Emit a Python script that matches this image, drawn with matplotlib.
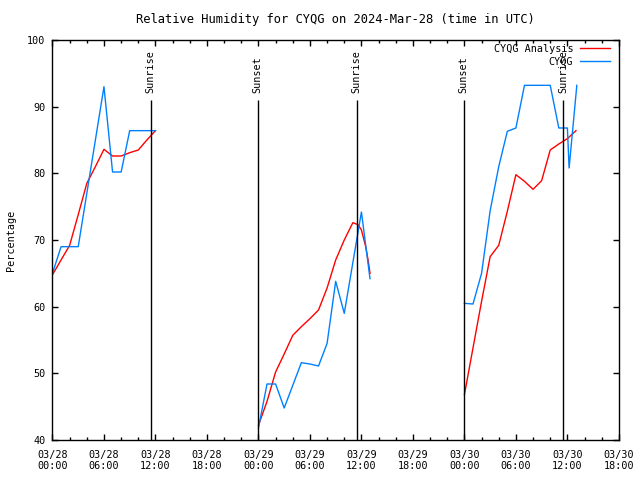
import numpy as np
import pandas as pd
import matplotlib
matplotlib.use("Agg")
import matplotlib.pyplot as plt
import matplotlib.dates as mdates

# hours after 2024-03-28 00:00 UTC, nan marks a gap between data segments
analysis_hours = [0, 1, 2, 3, 4, 5, 6, 7, 8, 9, 10, 11, 12, np.nan,
                  24, 25, 26, 27, 28, 29, 30, 31, 32, 33, 34, 35, 35.6, 36, 36.5, 36.8, 37, np.nan,
                  48, 49, 50, 51, 52, 53, 54, 55, 56, 57, 58, 59, 60, 61]
analysis_rh = [64.8, 67.0, 69.2, 73.8, 78.5, 81.0, 83.6, 82.6, 82.6, 83.1, 83.5, 85.0, 86.4, np.nan,
               42.2, 45.8, 50.2, 52.9, 55.7, 57.0, 58.2, 59.5, 62.8, 67.0, 70.0, 72.6, 72.3, 71.5, 69.0, 66.8, 65.0, np.nan,
               46.8, 53.8, 60.8, 67.5, 69.2, 74.3, 79.8, 78.8, 77.6, 78.9, 83.5, 84.4, 85.2, 86.4]

obs_hours = [0, 1, 2, 3, 4, 5, 6, 7, 8, 9, 10, 11, 12, np.nan,
             24, 25, 26, 27, 28, 29, 30, 31, 32, 33, 34, 35, 36, 37, np.nan,
             48, 49, 50, 51, 52, 53, 54, 55, 56, 57, 58, 59, 60, 60.2, 61.1]
obs_rh = [65.0, 69.0, 69.0, 69.0, 77.0, 85.0, 93.0, 80.2, 80.2, 86.4, 86.4, 86.4, 86.4, np.nan,
          41.8, 48.4, 48.4, 44.8, 48.2, 51.6, 51.4, 51.1, 54.5, 63.8, 59.0, 66.6, 74.2, 64.2, np.nan,
          60.5, 60.4, 65.0, 74.4, 81.0, 86.3, 86.8, 93.2, 93.2, 93.2, 93.2, 86.8, 86.8, 80.8, 93.2]

sun_labels = ["Sunrise", "Sunset", "Sunrise", "Sunset", "Sunrise"]
sun_hours = [11.45, 23.9, 35.45, 47.9, 59.5]

base = pd.Timestamp("2024-03-28 00:00")


def to_times(hours):
    '''
    to_times - turn hour offsets into timestamps (nan stays NaT)
    '''
    return base + pd.to_timedelta(pd.Series(hours, dtype=float), unit="h")


plt.rcParams["font.family"] = ["DejaVu Sans Mono"]
plt.rcParams["font.size"] = 7.3

fig = plt.figure(figsize=(6.4, 4.8), dpi=100)
ax = fig.add_axes([0.082, 0.0833, 0.885, 0.8334])

ax.plot(to_times(analysis_hours), analysis_rh, color="#ff0000", lw=1, label="CYQG Analysis")
ax.plot(to_times(obs_hours), obs_rh, color="#0080ff", lw=1, label="CYQG")

# sunrise / sunset markers
for lab, h in zip(sun_labels, sun_hours):
    t = base + pd.Timedelta(hours=h)
    ax.vlines(t, 40, 91, color="black", lw=1)
    ax.text(t, 92, lab, rotation=90, ha="center", va="bottom")

ax.set_xlim(base, base + pd.Timedelta(hours=66))
ax.set_ylim(40, 100)
ax.set_yticks(np.arange(40, 101, 10))
ax.xaxis.set_major_locator(mdates.HourLocator(byhour=[0, 6, 12, 18]))
ax.xaxis.set_minor_locator(mdates.HourLocator(byhour=range(0, 24, 2)))
ax.xaxis.set_major_formatter(mdates.DateFormatter("%m/%d\n%H:%M"))

ax.tick_params(which="both", direction="in", top=True, right=True)
ax.tick_params(which="major", length=4, width=1)
ax.tick_params(which="minor", length=2, width=1)
ax.tick_params(axis="x", pad=7)
ax.tick_params(axis="y", pad=5)
for s in ax.spines.values():
    s.set_linewidth(1)

ax.set_ylabel("Percentage", labelpad=8)
ax.set_title("Relative Humidity for CYQG on 2024-Mar-28 (time in UTC)", pad=12)

ax.legend(loc="upper right", bbox_to_anchor=(0.984, 0.99), frameon=False,
          markerfirst=False, borderpad=0, borderaxespad=0, handlelength=2.9,
          handletextpad=0.7, labelspacing=0.3)

fig.savefig("out.png", dpi=100)
